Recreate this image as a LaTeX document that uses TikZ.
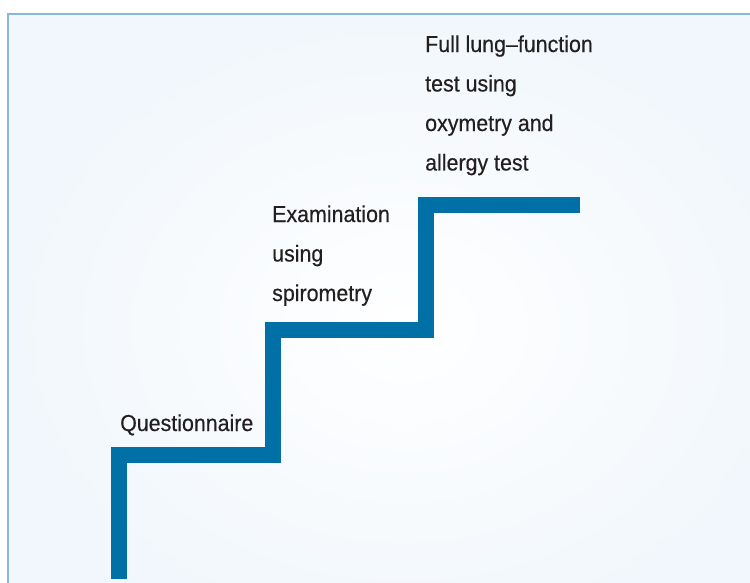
\documentclass[tikz,border=0pt]{standalone}
\usepackage{fontspec}
\setmainfont{Liberation Sans}[FakeStretch=0.93,FakeBold=0.4]
\definecolor{stairblue}{RGB}{0,112,167}
\definecolor{frameblue}{RGB}{138,182,222}
\definecolor{bgout}{RGB}{241,247,252}
\definecolor{txt}{RGB}{35,31,32}
\begin{document}
\begin{tikzpicture}[x=1pt,y=-1pt,
  stair/.style={draw=stairblue,line width=16pt,line cap=butt,line join=miter},
  label/.style={anchor=base west,inner sep=0pt,align=left,text=txt,
    font=\fontsize{23}{39.5}\selectfont}]
\useasboundingbox (0,0) rectangle (750,583);
\clip (0,0) rectangle (750,583);
\fill[white] (0,0) rectangle (750,583);
\shade[inner color=white,outer color=bgout] (8,14) rectangle (800,640);
\draw[frameblue,line width=2pt] (8,640) -- (8,14) -- (800,14);
\coordinate (s0) at (119,579);
\coordinate (s1) at (119,455);
\coordinate (s2) at (273,455);
\coordinate (s3) at (273,330);
\coordinate (s4) at (426,330);
\coordinate (s5) at (426,205);
\coordinate (s6) at (580,205);
\draw[stair] (s0) -- (s1) -- (s2) -- (s3) -- (s4) -- (s5) -- (s6);
\node[label] (q) at (120,431) {Questionnaire};
\node[label] (e) at (272,301) {Examination\\using\\spirometry};
\node[label] (f) at (425,170.5) {Full lung–function\\test using\\oxymetry and\\allergy test};
\end{tikzpicture}
\end{document}
